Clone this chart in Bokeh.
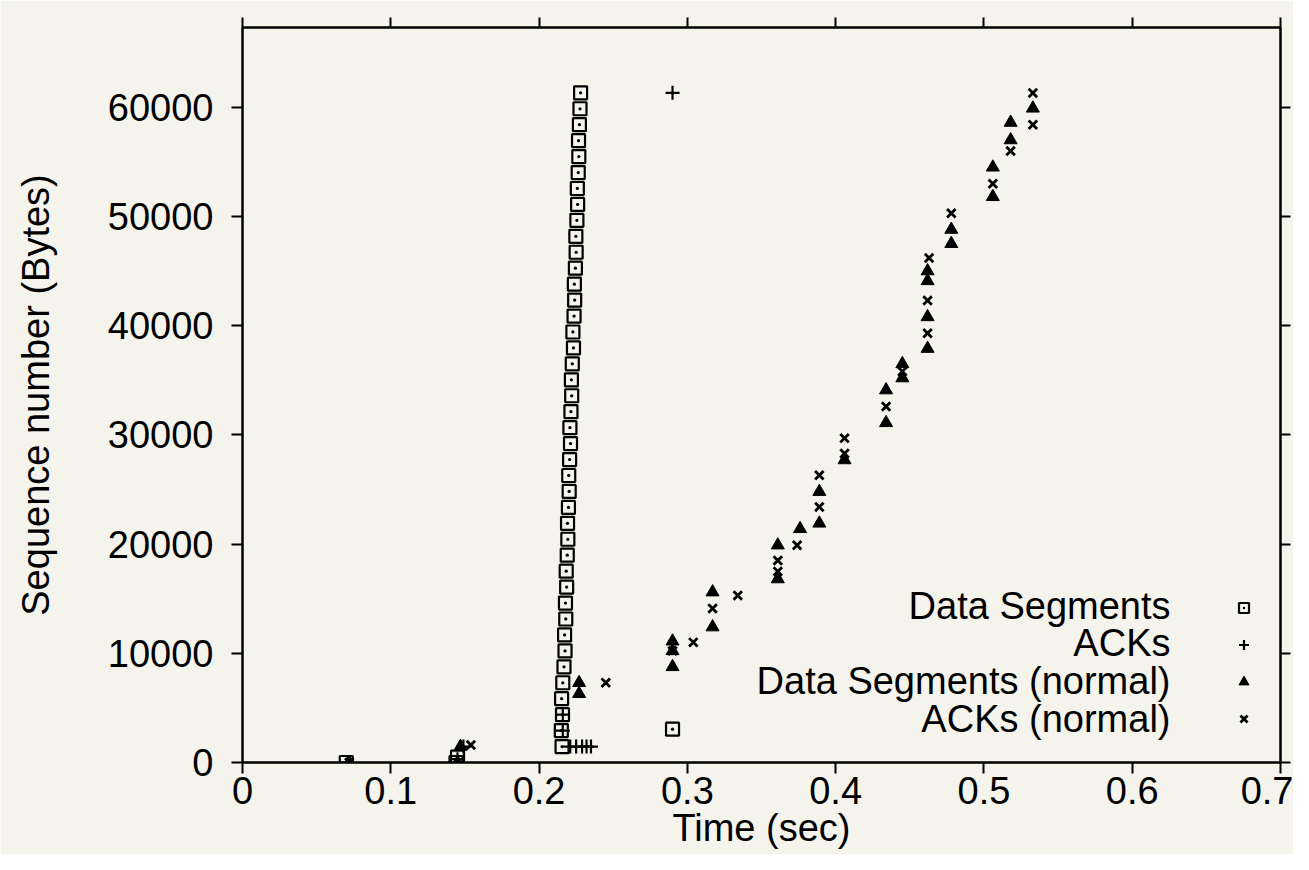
from bokeh.plotting import figure
from bokeh.models import (Range1d, FixedTicker, LinearAxis, Legend, LegendItem, Label)
from bokeh.embed import file_html
from bokeh.resources import INLINE

# ---------------- data ----------------
x_ticks = [0, 0.1, 0.2, 0.3, 0.4, 0.5, 0.6, 0.7]
x_tick_labels = ["0", "0.1", "0.2", "0.3", "0.4", "0.5", "0.6", "0.7"]
y_ticks = [0, 10000, 20000, 30000, 40000, 50000, 60000]
y_tick_labels = ["0", "10000", "20000", "30000", "40000", "50000", "60000"]

# Data Segments (squares)
seg_t = [0.070, 0.144, 0.145,
         0.2155, 0.2150, 0.2158, 0.2152, 0.2160, 0.2168, 0.2175, 0.2172, 0.2180, 0.2178,
         0.2186, 0.2183, 0.2190, 0.2194, 0.2192, 0.2198, 0.2203, 0.2200, 0.2206, 0.2212,
         0.2208, 0.2215, 0.2220, 0.2218, 0.2224, 0.2232, 0.2228, 0.2236, 0.2240, 0.2238,
         0.2245, 0.2250, 0.2248, 0.2255, 0.2260, 0.2258, 0.2264, 0.2268, 0.2266, 0.2272,
         0.2276, 0.2280,
         0.290]
seg_s = [0, 0, 500,
         1460, 2920, 4380, 5840, 7300, 8760, 10220, 11680, 13140, 14600,
         16060, 17520, 18980, 20440, 21900, 23360, 24820, 26280, 27740, 29200,
         30660, 32120, 33580, 35040, 36500, 37960, 39420, 40880, 42340, 43800,
         45260, 46720, 48180, 49640, 51100, 52560, 54020, 55480, 56940, 58400,
         59860, 61320,
         3050]

# ACKs (plus)
ack_t = [0.071, 0.145, 0.149, 0.216, 0.216, 0.221, 0.225, 0.229, 0.232, 0.235, 0.290]
ack_s = [0, 300, 1460, 2920, 4380, 1460, 1460, 1460, 1460, 1460, 61320]

# Data Segments (normal) (filled triangles)
nseg_t = [0.072, 0.145, 0.147, 0.227, 0.227, 0.290, 0.290, 0.290,
          0.317, 0.317, 0.361, 0.361, 0.376, 0.389, 0.389, 0.406,
          0.434, 0.434, 0.445, 0.445, 0.462, 0.462, 0.462, 0.462,
          0.478, 0.478, 0.506, 0.506, 0.518, 0.518, 0.533]
nseg_s = [0, 0, 1460, 6300, 7300, 8760, 10220, 11100,
          12400, 15600, 16800, 19900, 21400, 21900, 24800, 27700,
          31100, 34100, 35200, 36500, 37900, 40800, 44100, 45000,
          47500, 48800, 51800, 54500, 57000, 58600, 59900]

# ACKs (normal) (crosses)
nack_t = [0.072, 0.154, 0.245, 0.290, 0.304, 0.317, 0.334, 0.361, 0.361,
          0.374, 0.389, 0.389, 0.406, 0.406, 0.434, 0.445, 0.462, 0.462,
          0.463, 0.478, 0.506, 0.518, 0.533, 0.533]
nack_s = [0, 1600, 7300, 10220, 11000, 14100, 15300, 17500, 18500,
          19900, 23400, 26300, 28300, 29700, 32600, 35800, 39300, 42300,
          46200, 50300, 53000, 56000, 58400, 61300]

legend_labels = ["Data Segments", "ACKs", "Data Segments (normal)", "ACKs (normal)"]
x_label = "Time (sec)"
y_label = "Sequence number (Bytes)"

# ---------------- figure ----------------
BG = "#f4f3ec"
FONT = "Liberation Sans"
FS = "38px"

p = figure(width=1293, height=854, x_range=Range1d(0, 0.7), y_range=Range1d(0, 67300),
           output_backend="svg", toolbar_location=None,
           min_border_left=242, min_border_right=13, min_border_top=27, min_border_bottom=92)
p.background_fill_color = BG
p.border_fill_color = BG
p.outline_line_color = "black"
p.outline_line_width = 2
p.grid.visible = False

for ax in (p.xaxis[0], p.yaxis[0]):
    ax.axis_line_width = 2
    ax.major_tick_line_width = 2
    ax.major_tick_out = 11
    ax.major_tick_in = 0
    ax.minor_tick_out = 0
    ax.minor_tick_in = 0
    ax.major_label_text_font = FONT
    ax.major_label_text_font_size = FS
    ax.major_label_text_color = "black"
    ax.axis_label_text_font = FONT
    ax.axis_label_text_font_size = FS
    ax.axis_label_text_font_style = "normal"
    ax.axis_label_text_color = "black"

p.xaxis[0].ticker = FixedTicker(ticks=x_ticks)
p.xaxis[0].major_label_overrides = {t: l for t, l in zip(x_ticks, x_tick_labels)}
p.xaxis[0].major_label_standoff = 3
p.xaxis[0].axis_label = x_label
p.xaxis[0].axis_label_standoff = 0

p.yaxis[0].ticker = FixedTicker(ticks=y_ticks)
p.yaxis[0].major_label_overrides = {t: l for t, l in zip(y_ticks, y_tick_labels)}
p.yaxis[0].major_label_standoff = 18
p.yaxis[0].axis_label = y_label
p.yaxis[0].axis_label_standoff = 48

top = LinearAxis(ticker=FixedTicker(ticks=x_ticks),
                 major_label_overrides={t: "" for t in x_ticks},
                 major_tick_out=10, major_tick_in=0, minor_tick_out=0, minor_tick_in=0,
                 axis_line_width=2, major_tick_line_width=2, major_label_standoff=0)
right = LinearAxis(ticker=FixedTicker(ticks=y_ticks),
                   major_label_overrides={t: "" for t in y_ticks},
                   major_tick_out=10, major_tick_in=0, minor_tick_out=0, minor_tick_in=0,
                   axis_line_width=2, major_tick_line_width=2, major_label_standoff=0)
p.add_layout(top, "above")
p.add_layout(right, "right")

r_seg = p.scatter(seg_t, seg_s, marker="square_dot", size=13, fill_alpha=0,
                  line_color="black", line_width=2.2)
r_ack = p.scatter(ack_t, ack_s, marker="cross", size=14, line_color="black", line_width=2.2)
r_nseg = p.scatter(nseg_t, nseg_s, marker="triangle", size=13, fill_color="black",
                   line_color="black", line_width=1)
r_nack = p.scatter(nack_t, nack_s, marker="x", size=12, line_color="black", line_width=2.8)

renderers = [r_seg, r_ack, r_nseg, r_nack]
legend = Legend(items=[LegendItem(label="", renderers=[r]) for r in renderers],
                location=(989, 25), orientation="vertical",
                glyph_width=25, glyph_height=37, label_width=0, label_height=37,
                label_standoff=0, label_text_font_size="10px",
                padding=0, margin=0, spacing=0,
                border_line_alpha=0, background_fill_alpha=0)
p.add_layout(legend)

row_y = [157, 120, 82, 44]
for lab, yy in zip(legend_labels, row_y):
    p.add_layout(Label(x=928, y=yy, x_units="screen", y_units="screen", text=lab,
                       text_align="right", text_baseline="middle",
                       text_font=FONT, text_font_size=FS, text_color="black"))

open("out.html", "w").write(file_html(p, INLINE))
